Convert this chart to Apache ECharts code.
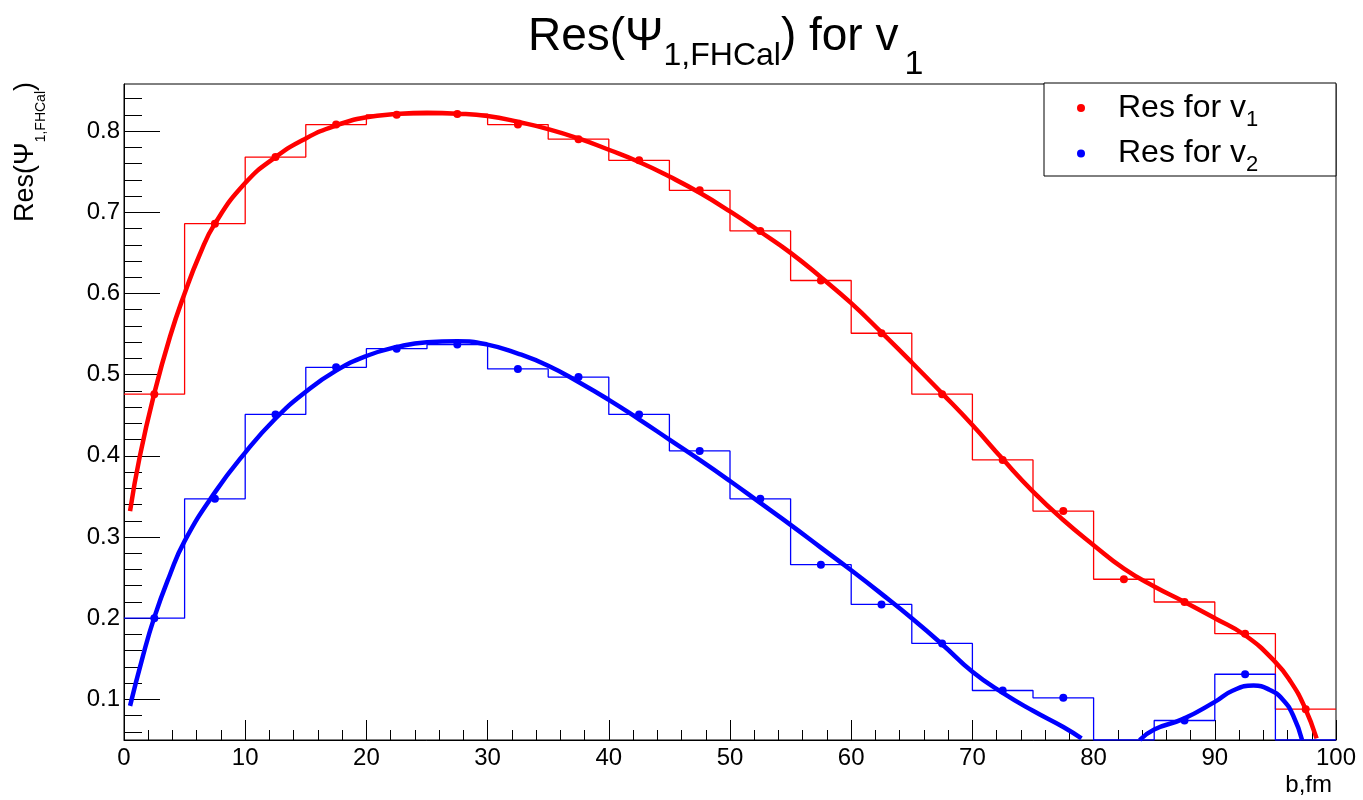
<!DOCTYPE html>
<html><head><meta charset="utf-8">
<script src="https://cdn.jsdelivr.net/npm/echarts@6/dist/echarts.min.js"></script>
<style>html,body{margin:0;padding:0;background:#fff}#c{width:1363px;height:800px}</style>
</head><body><div id="c"></div>
<script>
// ---- data ----
const binEdges = [0,5,10,15,20,25,30,35,40,45,50,55,60,65,70,75,80,85,90,95,100];
const resV1 = [0.476,0.686,0.768,0.808,0.820,0.821,0.808,0.790,0.764,0.727,0.677,0.616,0.551,0.476,0.395,0.332,0.248,0.220,0.181,0.088];
const resV2 = [0.200,0.347,0.451,0.509,0.532,0.537,0.507,0.497,0.451,0.406,0.347,0.266,0.217,0.169,0.111,0.102,0.030,0.074,0.131,0.020];
const fitV1X = [0.5,1.3,2.5,3.8,5,6.25,7.5,10,12.5,15,17.5,20,22.5,25,27.5,30,32.5,35,37.5,40,42.5,45,47.5,50,52.5,55,57.5,60,62.5,65,67.5,70,72.5,75,77.5,80,82.5,85,87.5,90,92.5,95,96.3,97.4,98.4];
const fitV1Y = [0.332,0.399,0.477,0.547,0.600,0.648,0.686,0.736,0.768,0.791,0.807,0.817,0.821,0.8225,0.8215,0.8185,0.8115,0.8025,0.791,0.777,0.762,0.744,0.724,0.701,0.676,0.650,0.620,0.588,0.552,0.515,0.477,0.438,0.396,0.356,0.321,0.290,0.261,0.239,0.220,0.200,0.179,0.146,0.121,0.091,0.052];
const fitV2X = [0.5,1.5,2.5,3.75,5,7.5,10,12.5,15,17.5,20,22.5,25,27.5,30,32.5,35,37.5,40,42.5,45,47.5,50,52.5,55,57.5,60,62.5,65,67.5,70,72.5,75,77.5,79,81.5,83.8,85,87.4,90,91.5,93.2,94.5,95.6,96.5,97.2];
const fitV2Y = [0.092,0.150,0.201,0.252,0.295,0.355,0.404,0.446,0.479,0.505,0.523,0.534,0.540,0.541,0.537,0.526,0.511,0.491,0.469,0.445,0.420,0.395,0.369,0.342,0.315,0.287,0.259,0.230,0.200,0.168,0.134,0.108,0.086,0.066,0.052,null,0.050,0.063,0.076,0.097,0.111,0.117,0.112,0.100,0.079,0.050];
const xTicks = [0,10,20,30,40,50,60,70,80,90,100];
const yTicks = [0.1,0.2,0.3,0.4,0.5,0.6,0.7,0.8];
const Y_MIN = 0.05, Y_MAX = 0.858;

// ---- build ----
function outline(vals){
  const pts = [];
  for (let i = 0; i < vals.length; i++) {
    const v = Math.max(vals[i], Y_MIN);
    pts.push([binEdges[i], v], [binEdges[i+1], v]);
  }
  return pts;
}
function centersPts(vals){
  const pts = [];
  for (let i = 0; i < vals.length; i++) {
    if (vals[i] >= Y_MIN) pts.push([(binEdges[i]+binEdges[i+1])/2, vals[i]]);
  }
  return pts;
}
function zip(xs, ys){ return xs.map((x,i)=> ys[i]===null ? [x,null] : [x, ys[i]]); }
const yMinor = [];
for (let k = 3; k <= 42; k++) { const v = +(k*0.02).toFixed(2); if (Math.abs(v*10 - Math.round(v*10)) > 1e-6) yMinor.push(v); }

const FONT = 'Liberation Sans';
const RED = '#ff0000', BLUE = '#0000ff';
const chart = echarts.init(document.getElementById('c'), null, {renderer:'canvas'});
chart.setOption({
  animation: false,
  backgroundColor: '#fff',
  title: {
    left: 528, top: -8, padding: 0,
    text: '{m|Res(Ψ}{s|1,FHCal}{m|) for v}{t|1}',
    textStyle: {
      fontWeight: 'normal',
      rich: {
        m: {fontFamily: FONT, fontSize: 46, fontWeight: 'normal', color: '#000'},
        s: {fontFamily: FONT, fontSize: 32, fontWeight: 'normal', color: '#000', padding: [38,0,0,0]},
        t: {fontFamily: FONT, fontSize: 34, fontWeight: 'normal', color: '#000', padding: [56,0,0,6]}
      }
    }
  },
  grid: {left: 124, right: 27, top: 84, bottom: 60, show: true, borderColor: '#000', borderWidth: 1, backgroundColor: 'transparent'},
  legend: {
    left: 1077, top: 92, orient: 'vertical', padding: [0,0,0,0], itemGap: 7,
    icon: 'circle', itemWidth: 64, itemHeight: 8, z: 20,
    data: ['Res for v1', 'Res for v2'],
    formatter: n => '{m|Res for v}{s|' + n.slice(-1) + '}',
    textStyle: {
      rich: {
        m: {fontFamily: FONT, fontSize: 32, color: '#000'},
        s: {fontFamily: FONT, fontSize: 22, color: '#000', padding: [23,0,0,0]}
      }
    }
  },
  xAxis: {
    type: 'value', min: 0, max: 100, interval: 10,
    axisLine: {show: true, lineStyle: {color: '#000', width: 1}},
    axisTick: {inside: true, length: 20, lineStyle: {color: '#000'}},
    minorTick: {show: true, splitNumber: 5, length: 10, lineStyle: {color: '#000'}},
    splitLine: {show: false},
    axisLabel: {fontFamily: FONT, fontSize: 24, color: '#000', margin: 6,
      customValues: xTicks, formatter: v => String(v)}
  },
  yAxis: [
    {
      type: 'value', min: Y_MIN, max: Y_MAX,
      axisLine: {show: true, lineStyle: {color: '#000', width: 1}},
      axisTick: {inside: true, length: 36, lineStyle: {color: '#000'}, customValues: yTicks},
      axisLabel: {fontFamily: FONT, fontSize: 24, color: '#000', margin: 4,
        customValues: yTicks, formatter: v => v.toFixed(1)},
      splitLine: {show: false}
    },
    {
      type: 'value', min: Y_MIN, max: Y_MAX, position: 'left', offset: 0,
      axisLine: {show: false},
      axisTick: {inside: true, length: 18, lineStyle: {color: '#000'}, customValues: yMinor},
      axisLabel: {show: false},
      splitLine: {show: false}
    }
  ],
  graphic: [
    {type: 'rect', z: 10, shape: {x: 1044, y: 83, width: 292, height: 93},
      style: {fill: '#fff', stroke: '#000', lineWidth: 1}},
    {type: 'text', z: 10, x: 26, y: 82, rotation: Math.PI/2,
      style: {text: '{m|Res(Ψ}{s|1,FHCal}{m|)}', align: 'right', verticalAlign: 'middle',
        rich: {
          m: {fontFamily: FONT, fontSize: 27, fill: '#000'},
          s: {fontFamily: FONT, fontSize: 14, fill: '#000', padding: [31,0,0,0]}
        }}},
    {type: 'text', z: 10, x: 1332, y: 785,
      style: {text: 'b,fm', align: 'right', verticalAlign: 'middle', fontFamily: FONT, fontSize: 24, fill: '#000'}}
  ],
  series: [
    {name: 'histV1', type: 'line', data: outline(resV1), showSymbol: false, symbol: 'none',
      lineStyle: {color: RED, width: 1.3}, z: 3},
    {name: 'histV2', type: 'line', data: outline(resV2), showSymbol: false, symbol: 'none',
      lineStyle: {color: BLUE, width: 1.3}, z: 3},
    {name: 'fitV1', type: 'line', data: zip(fitV1X, fitV1Y), smooth: 0.5, symbol: 'none',
      lineStyle: {color: RED, width: 4.5}, z: 4},
    {name: 'fitV2', type: 'line', data: zip(fitV2X, fitV2Y), smooth: 0.5, symbol: 'none',
      connectNulls: false, lineStyle: {color: BLUE, width: 4.5}, z: 4},
    {name: 'Res for v1', type: 'scatter', data: centersPts(resV1), symbol: 'circle', symbolSize: 8,
      itemStyle: {color: RED, opacity: 1}, z: 5},
    {name: 'Res for v2', type: 'scatter', data: centersPts(resV2), symbol: 'circle', symbolSize: 8,
      itemStyle: {color: BLUE, opacity: 1}, z: 5}
  ]
});
</script>
</body></html>
